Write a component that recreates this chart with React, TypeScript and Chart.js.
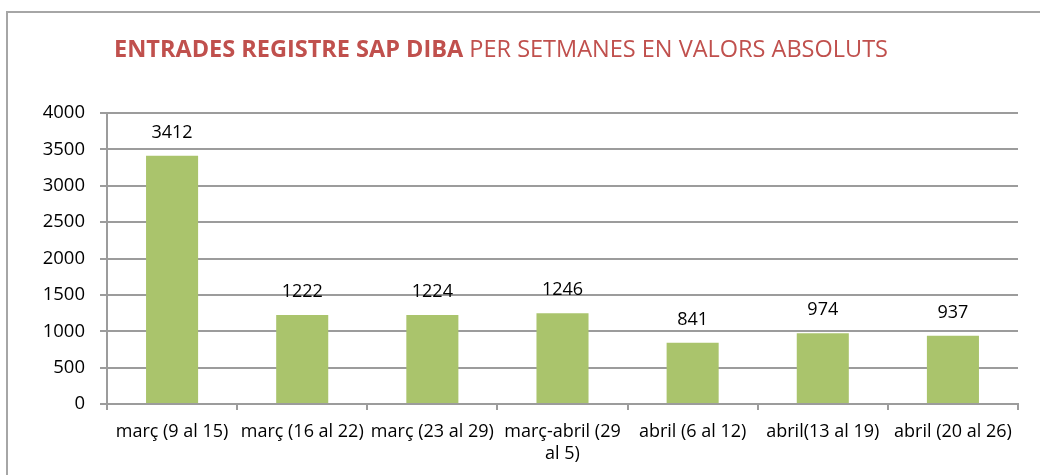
import React, { useEffect, useRef } from "react";
import { Chart, registerables } from "chart.js";

Chart.register(...registerables);

const categories: (string | string[])[] = [
  "març (9 al 15)",
  "març (16 al 22)",
  "març (23 al 29)",
  ["març-abril (29", "al 5)"],
  "abril (6 al 12)",
  "abril(13 al 19)",
  "abril (20 al 26)",
];
const entrades: number[] = [3412, 1222, 1224, 1246, 841, 974, 937];
const titleBold = "ENTRADES REGISTRE SAP DIBA";
const titleNormal = " PER SETMANES EN VALORS ABSOLUTS";

const FONT = "'Open Sans', sans-serif";
const GRID = "#9c9c9c";
const TITLE_SIZE = 23.5;

const framePlugin = {
  id: "frameAndTitle",
  beforeDraw(chart: any) {
    const ctx = chart.ctx;
    ctx.save();
    ctx.fillStyle = "#ffffff";
    ctx.fillRect(0, 0, chart.width, chart.height);
    ctx.strokeStyle = "#a6a6a6";
    ctx.lineWidth = 2;
    ctx.strokeRect(7, 12, chart.width + 20, chart.height + 20);
    // title
    ctx.textBaseline = "alphabetic";
    ctx.fillStyle = "#C0504D";
    ctx.font = `bold ${TITLE_SIZE}px ${FONT}`;
    const w1 = ctx.measureText(titleBold).width;
    ctx.font = `${TITLE_SIZE}px ${FONT}`;
    const w2 = ctx.measureText(titleNormal).width;
    const x0 = 501 - (w1 + w2) / 2;
    ctx.font = `bold ${TITLE_SIZE}px ${FONT}`;
    ctx.fillText(titleBold, x0, 57);
    ctx.font = `${TITLE_SIZE}px ${FONT}`;
    ctx.fillText(titleNormal, x0 + w1, 57);
    ctx.restore();
  },
};

const valueLabels = {
  id: "valueLabels",
  afterDatasetsDraw(chart: any) {
    const ctx = chart.ctx;
    const meta = chart.getDatasetMeta(0);
    ctx.save();
    ctx.font = `18px ${FONT}`;
    ctx.fillStyle = "#000000";
    ctx.textAlign = "center";
    ctx.textBaseline = "alphabetic";
    meta.data.forEach((bar: any, i: number) => {
      ctx.fillText(String(chart.data.datasets[0].data[i]), bar.x, bar.y - 18);
    });
    ctx.restore();
  },
};

export default function App() {
  const ref = useRef<HTMLCanvasElement | null>(null);
  useEffect(() => {
    document.body.style.margin = "0";
    const chart = new Chart(ref.current as HTMLCanvasElement, {
      type: "bar",
      data: {
        labels: categories,
        datasets: [
          {
            data: entrades,
            backgroundColor: "#AAC46C",
            borderWidth: 0,
            categoryPercentage: 1,
            barPercentage: 0.4,
          },
        ],
      },
      options: {
        animation: false,
        responsive: false,
        layout: { padding: { top: 113, right: 22, left: 0, bottom: 0 } },
        plugins: {
          legend: { display: false },
          title: { display: false },
          tooltip: { enabled: false },
        },
        scales: {
          x: {
            offset: true,
            afterFit(scale: any) {
              scale.height = 71;
            },
            grid: {
              display: true,
              drawOnChartArea: false,
              drawTicks: true,
              tickLength: 6,
              offset: true,
              color: GRID,
              lineWidth: 2,
            },
            border: { display: true, color: GRID, width: 2 },
            ticks: {
              autoSkip: false,
              maxRotation: 0,
              minRotation: 0,
              padding: 11,
              color: "#000000",
              font: { family: FONT, size: 18, lineHeight: 1.2 },
            },
          },
          y: {
            min: 0,
            max: 4000,
            afterFit(scale: any) {
              scale.width = 107;
            },
            grid: {
              color: GRID,
              lineWidth: 2,
              drawTicks: true,
              tickLength: 7,
            },
            border: { display: true, color: GRID, width: 2 },
            ticks: {
              stepSize: 500,
              padding: 15,
              color: "#000000",
              font: { family: FONT, size: 18.5 },
              callback: (v: any) => String(v),
            },
          },
        },
      },
      plugins: [framePlugin, valueLabels],
    });
    return () => chart.destroy();
  }, []);
  return (
    <div style={{ width: 1040, height: 475 }}>
      <canvas ref={ref} width={1040} height={475} style={{ display: "block" }} />
    </div>
  );
}
